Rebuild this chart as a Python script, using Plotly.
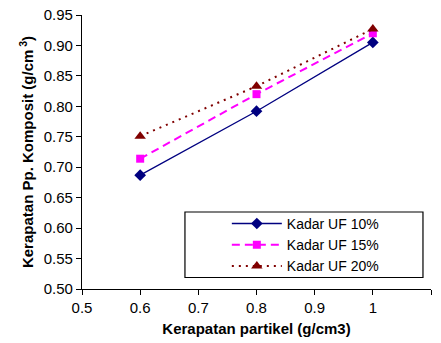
import plotly.graph_objects as go

# Particle density (g/cm3) and composite density for each UF resin content
kerapatan_partikel = [0.6, 0.8, 1.0]
uf_10 = [0.687, 0.792, 0.905]
uf_15 = [0.714, 0.820, 0.920]
uf_20 = [0.751, 0.833, 0.927]

series_names = ["Kadar UF 10%", "Kadar UF 15%", "Kadar UF 20%"]
x_ticks = [0.5, 0.6, 0.7, 0.8, 0.9, 1.0, 1.1]
x_tick_text = ["0.5", "0.6", "0.7", "0.8", "0.9", "1", "1.1"]
y_ticks = [0.50, 0.55, 0.60, 0.65, 0.70, 0.75, 0.80, 0.85, 0.90, 0.95]

FONT = "Liberation Sans, Arial, sans-serif"

fig = go.Figure()
fig.add_trace(go.Scatter(
    x=kerapatan_partikel, y=uf_10, name=series_names[0], mode="lines+markers",
    line=dict(color="#000080", width=1.3),
    marker=dict(symbol="diamond", size=9, color="#000080")))
fig.add_trace(go.Scatter(
    x=kerapatan_partikel, y=uf_15, name=series_names[1], mode="lines+markers",
    line=dict(color="#FF00FF", width=2, dash="8px,5px"),
    marker=dict(symbol="square", size=8, color="#FF00FF")))
fig.add_trace(go.Scatter(
    x=kerapatan_partikel, y=uf_20, name=series_names[2], mode="lines+markers",
    line=dict(color="#800000", width=2, dash="2px,5px"),
    marker=dict(symbol="triangle-up", size=10, color="#800000")))

# Legend frame
fig.add_shape(type="rect", xref="paper", yref="paper",
              x0=0.295, x1=0.977, y0=0.042, y1=0.281,
              line=dict(color="black", width=1.2), fillcolor="rgba(0,0,0,0)")

fig.update_layout(
    width=441, height=343,
    margin=dict(l=82, r=10, t=15, b=54),
    paper_bgcolor="white", plot_bgcolor="white",
    font=dict(family=FONT, size=15, color="black"),
    showlegend=True,
    legend=dict(x=0.415, y=0.296, xanchor="left", yanchor="top",
                bgcolor="rgba(0,0,0,0)", borderwidth=0,
                font=dict(family=FONT, size=14), itemwidth=50,
                tracegroupgap=0),
    xaxis=dict(range=[0.5, 1.1], tickvals=x_ticks, ticktext=x_tick_text,
               showgrid=False, zeroline=False, showline=True, automargin=False,
               linecolor="black", linewidth=1.2, ticks="outside",
               ticklen=5, tickcolor="black", tickfont=dict(size=15),
               title=dict(text="<b>Kerapatan partikel (g/cm3)</b>",
                          font=dict(size=15), standoff=8)),
    yaxis=dict(range=[0.50, 0.95], tickvals=y_ticks, tickformat=".2f",
               showgrid=False, zeroline=False, showline=True, automargin=False,
               linecolor="black", linewidth=1.2, ticks="outside",
               ticklen=5, tickcolor="black", tickfont=dict(size=15),
               title=dict(text="<b>Kerapatan Pp. Komposit (g/cm<sup> 3</sup>)</b>",
                          font=dict(size=15), standoff=6)),
)

fig.write_html("out.html")
